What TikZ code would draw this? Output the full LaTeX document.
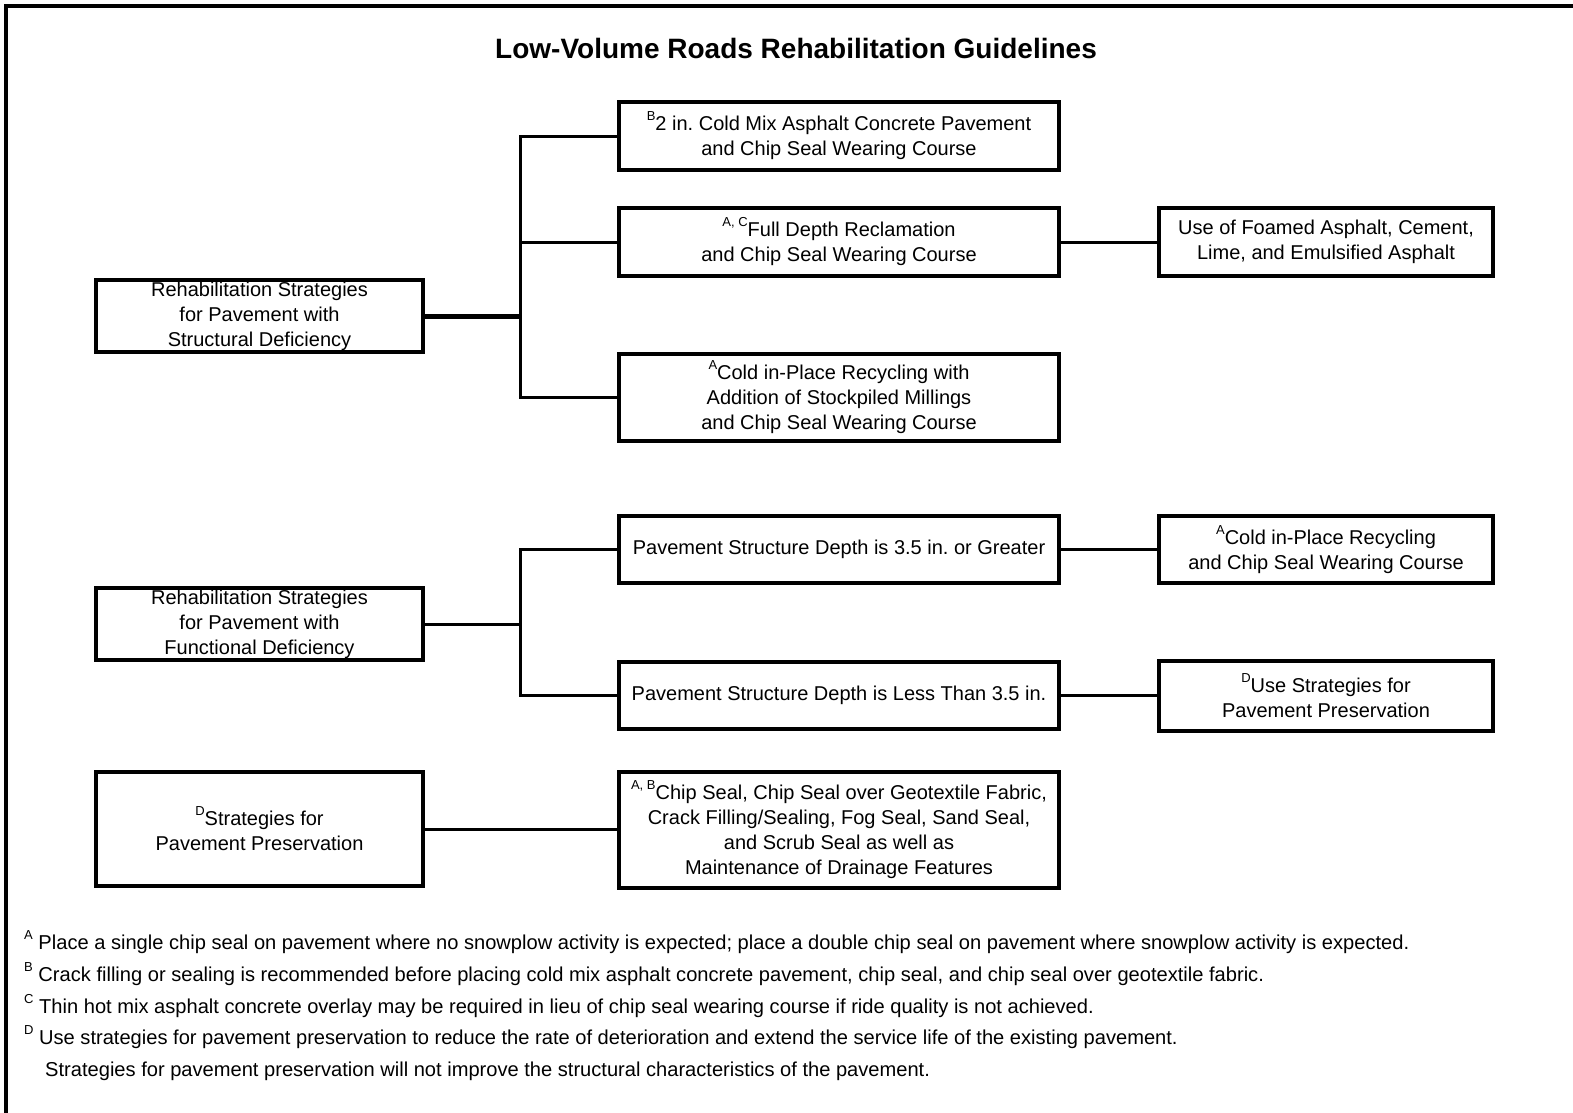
\documentclass[tikz,border=0pt]{standalone}
\usepackage{fontspec}
\setmainfont{Liberation Sans}
\newfontfamily\notefont{Liberation Sans}
\newcommand{\mk}[1]{\raisebox{10pt}{\fontsize{13}{13}\selectfont #1}}
\frenchspacing
\begin{document}
\begin{tikzpicture}[x=1pt,y=-1pt]
        \tikzstyle{box}=[draw,line width=4pt,align=center,inner sep=0pt,font=\fontsize{20}{25}\selectfont]
        \tikzstyle{edge}=[draw,line width=3pt]
        \tikzstyle{note}=[anchor=base west,inner sep=0pt,font=\notefont\fontsize{20.1}{24}\selectfont]
        \useasboundingbox (0,0) rectangle (1573,1112);
        \draw[line width=4pt] (1580,6) -- (6,6) -- (6,1120);
        \node[font=\fontsize{28}{34}\selectfont\bfseries] (title) at (796,48) {Low-Volume Roads Rehabilitation Guidelines};
       \begin{scope}
         \node [box,minimum width=327pt,minimum height=72pt] (str) at (259.5,316) {Rehabilitation Strategies\\for Pavement with\\Structural Deficiency};
         \node [box,minimum width=440pt,minimum height=68pt] (cold) at (839,136) {\mk{B}2 in. Cold Mix Asphalt Concrete Pavement\\and Chip Seal Wearing Course};
         \node [box,minimum width=440pt,minimum height=68pt] (fdr) at (839,242) {\mk{A, C}Full Depth Reclamation\\and Chip Seal Wearing Course};
         \node [box,minimum width=440pt,minimum height=87pt] (cir) at (839,397.5) {\mk{A}Cold in-Place Recycling with\\Addition of Stockpiled Millings\\and Chip Seal Wearing Course};
         \node [box,minimum width=334pt,minimum height=68pt] (foam) at (1326,242) {Use of Foamed Asphalt, Cement,\\Lime, and Emulsified Asphalt};
         \coordinate (jstr) at (520,316);
         \path[edge,line width=5pt] (str.east) -- (jstr);
         \path[edge] (cold.west) -| (jstr);
         \path[edge] (cir.west) -| (jstr);
         \path[edge] (fdr.west) -- (fdr.west -| jstr);
         \path[edge] (fdr.east) -- (foam.west);
        \end{scope}
       \begin{scope}
         \node [box,minimum width=327pt,minimum height=72pt] (fun) at (259.5,624) {Rehabilitation Strategies\\for Pavement with\\Functional Deficiency};
         \node [box,minimum width=440pt,minimum height=67pt] (deep) at (839,549.5) {Pavement Structure Depth is 3.5 in. or Greater};
         \node [box,minimum width=440pt,minimum height=67pt] (shallow) at (839,695.5) {Pavement Structure Depth is Less Than 3.5 in.};
         \node [box,minimum width=334pt,minimum height=67pt] (cirw) at (1326,549.5) {\mk{A}Cold in-Place Recycling\\and Chip Seal Wearing Course};
         \node [box,minimum width=334pt,minimum height=70pt] (usepres) at (1326,695.5) {\mk{D}Use Strategies for\\Pavement Preservation};
         \coordinate (jfun) at (520,624);
         \path[edge] (fun.east) -- (jfun);
         \path[edge] (deep.west) -| (jfun);
         \path[edge] (shallow.west) -| (jfun);
         \path[edge] (deep.east) -- (cirw.west);
         \path[edge] (shallow.east) -- (usepres.west);
        \end{scope}
       \begin{scope}
         \node [box,minimum width=327pt,minimum height=114pt] (pres) at (259.5,829) {\mk{D}Strategies for\\Pavement Preservation};
         \node [box,minimum width=440pt,minimum height=116pt] (seals) at (839,830) {\mk{A, B}Chip Seal, Chip Seal over Geotextile Fabric,\\Crack Filling/Sealing, Fog Seal, Sand Seal,\\and Scrub Seal as well as\\Maintenance of Drainage Features};
         \path[edge] (pres.east) -- (pres.east -| seals.west);
        \end{scope}
         \node [note] (fna) at (24,949) {\mk{A} Place a single chip seal on pavement where no snowplow activity is expected; place a double chip seal on pavement where snowplow activity is expected.};
         \node [note] (fnb) at (24,981) {\mk{B} Crack filling or sealing is recommended before placing cold mix asphalt concrete pavement, chip seal, and chip seal over geotextile fabric.};
         \node [note] (fnc) at (24,1013) {\mk{C} Thin hot mix asphalt concrete overlay may be required in lieu of chip seal wearing course if ride quality is not achieved.};
         \node [note] (fnd) at (24,1044) {\mk{D} Use strategies for pavement preservation to reduce the rate of deterioration and extend the service life of the existing pavement.};
         \node [note] (fne) at (45,1076) {Strategies for pavement preservation will not improve the structural characteristics of the pavement.};
      \end{tikzpicture}
\end{document}
